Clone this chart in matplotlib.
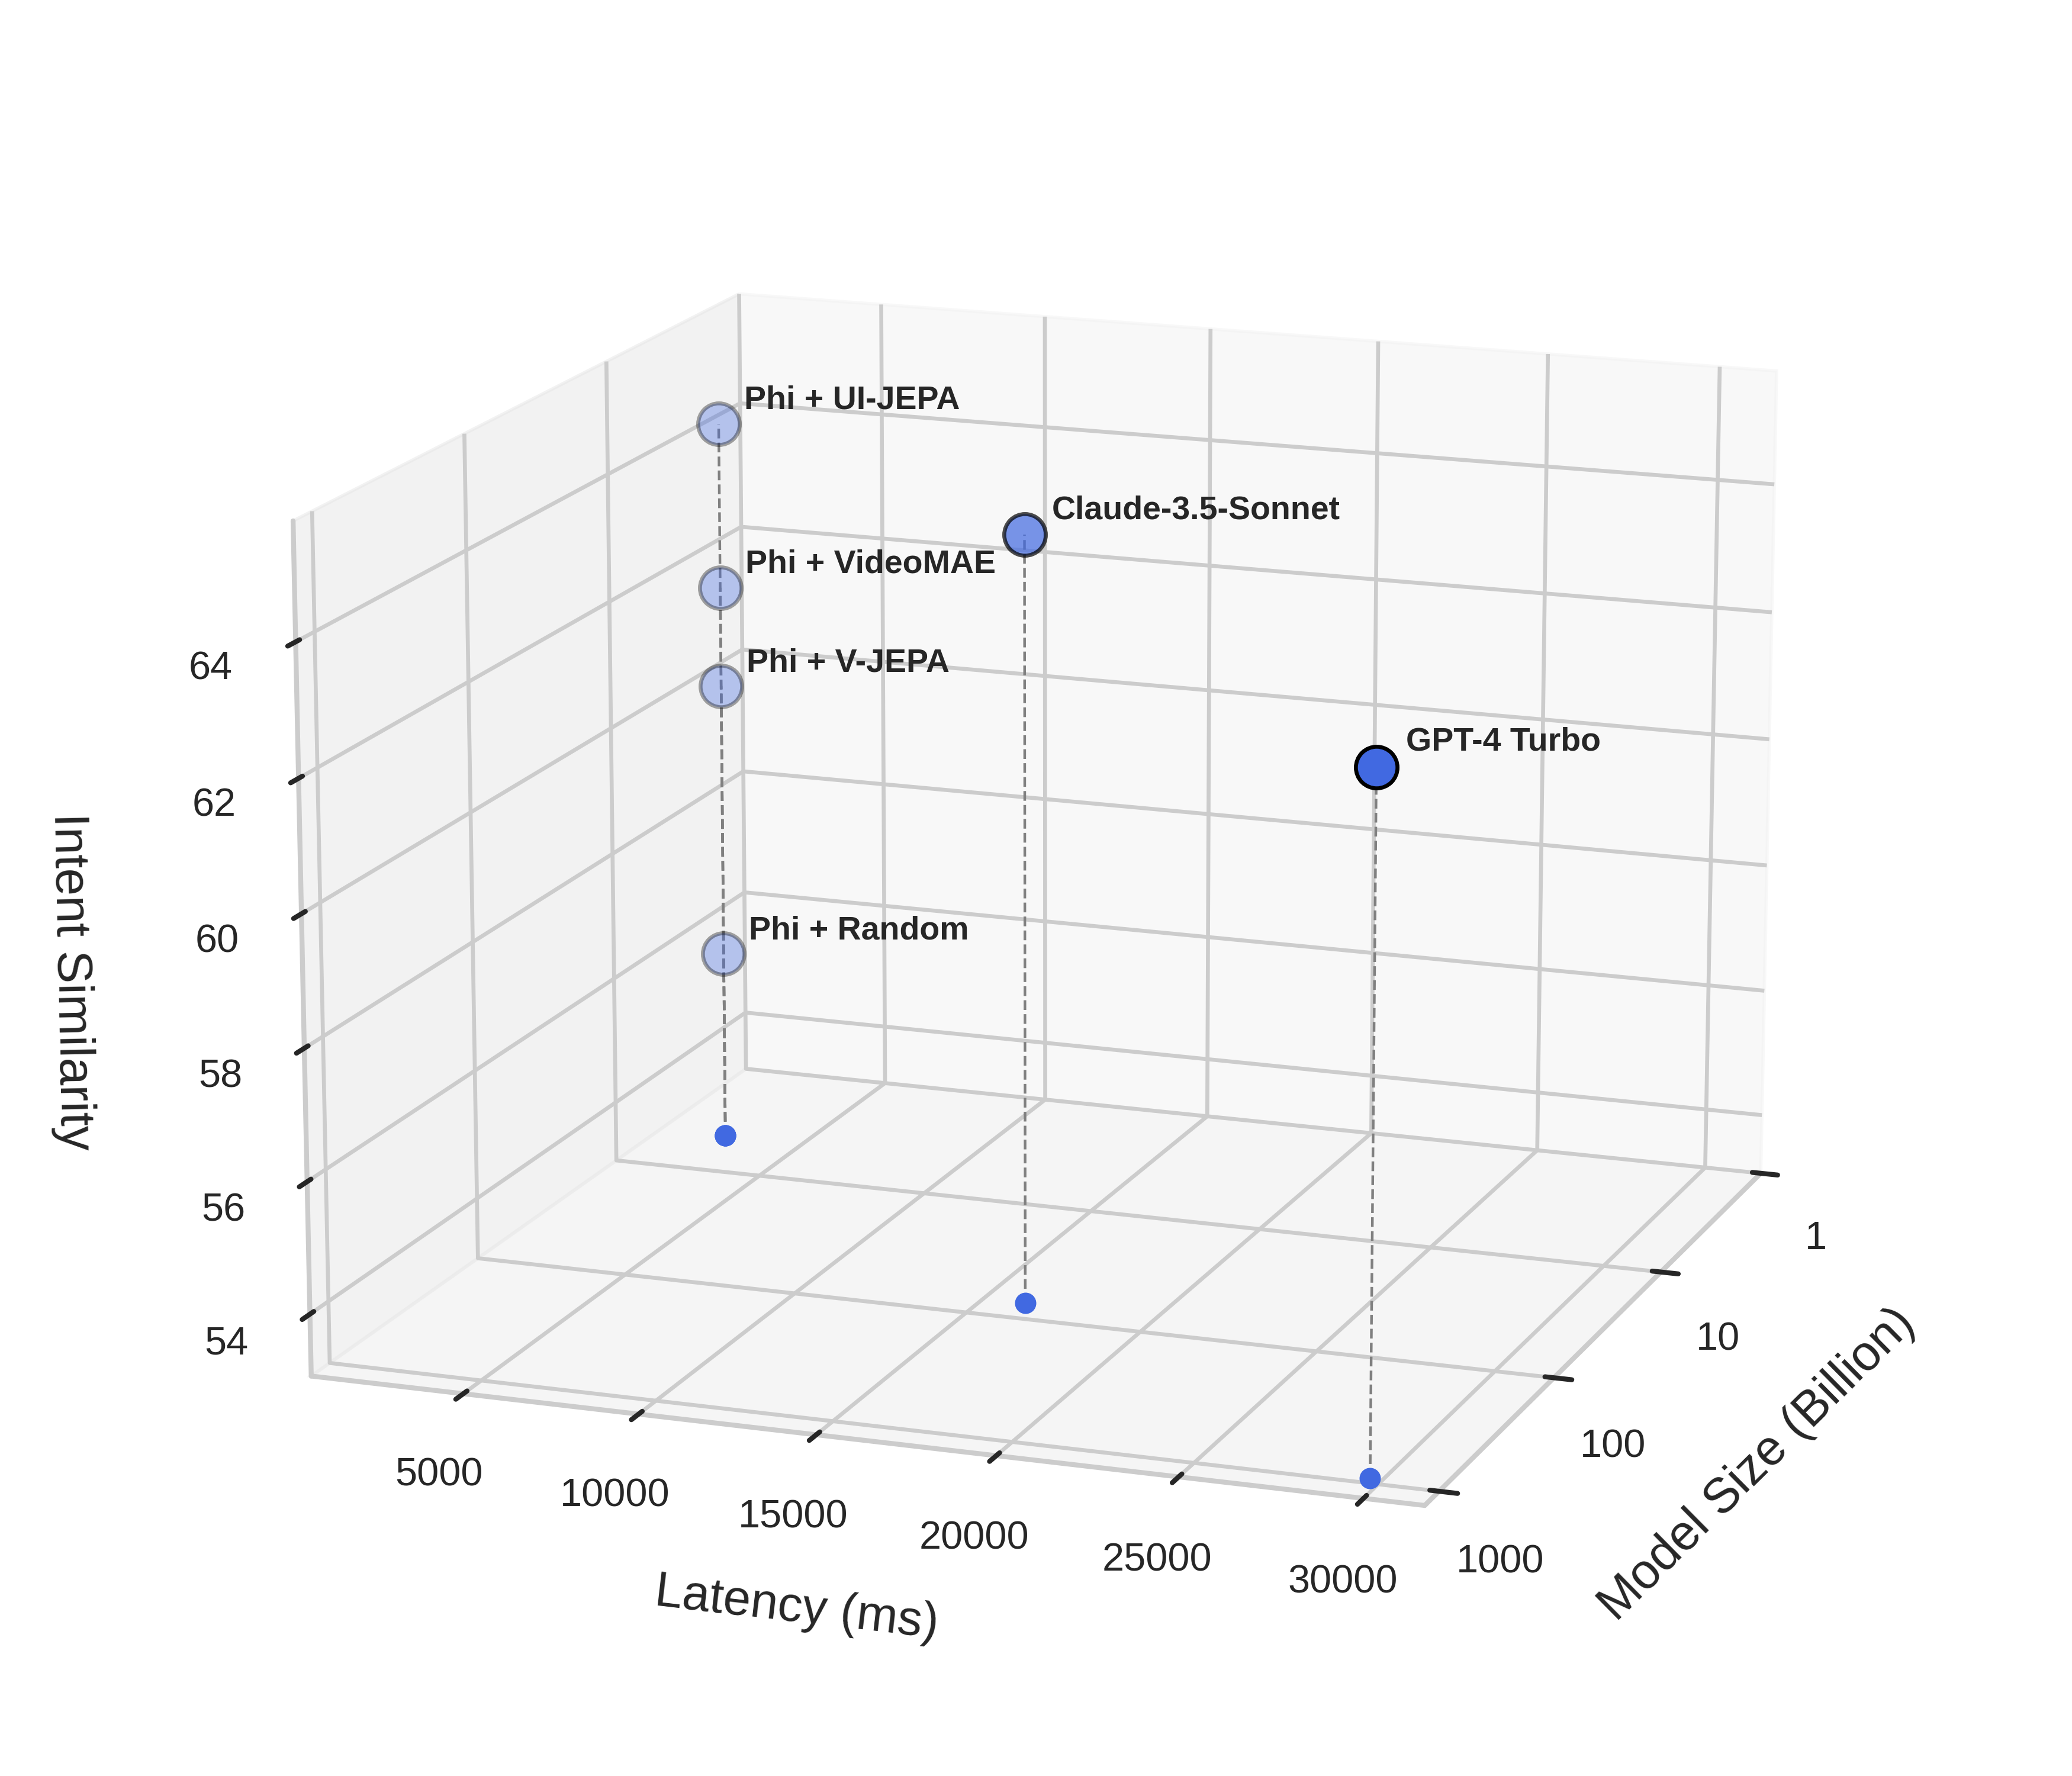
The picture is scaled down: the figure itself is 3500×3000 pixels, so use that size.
import numpy as np
import matplotlib
matplotlib.use("Agg")
import matplotlib.pyplot as plt
import seaborn as sns

sns.set_style("whitegrid")
plt.rcParams["font.family"] = ["Liberation Sans", "DejaVu Sans"]
plt.rcParams["grid.linewidth"] = 1.2
plt.rcParams["axes.linewidth"] = 1.5
plt.rcParams["xtick.major.width"] = 1.5
plt.rcParams["ytick.major.width"] = 1.5

# model name, latency, model size, similarity
models = ["GPT-4 Turbo", "Claude-3.5-Sonnet", "Phi + UI-JEPA", "Phi + VideoMAE", "Phi + V-JEPA", "Phi + Random"]
latency = [29650, 16200, 2610, 2610, 2610, 2610]
model_size = [910, 73, 4.6, 4.6, 4.6, 4.6]
similarity = [63.35, 64.75, 64.49, 61.9, 60.33, 56.03]
alphas = [1.0, 0.7, 0.35, 0.35, 0.35, 0.35]

latency_ticks = [5000, 10000, 15000, 20000, 25000, 30000]
size_ticks = [1, 10, 100, 1000]
sim_ticks = [54, 56, 58, 60, 62, 64]

fig = plt.figure(figsize=(8.75, 7.5), dpi=400)
ax = fig.add_subplot(111, projection="3d")
ax.set_position([0.0718, 0.0011, 0.857, 1.0])

ax.set_xlim(0, 3.12)
ax.set_ylim(610, 31640)
ax.set_zlim(53.06, 65.76)

log_size = np.log10(model_size)
z_floor = ax.get_zlim()[0]
for i, name in enumerate(models):
    ax.plot([log_size[i]] * 2, [latency[i]] * 2, [z_floor, similarity[i]],
            color="gray", linestyle="--", linewidth=0.8)
    ax.scatter(log_size[i], latency[i], z_floor, color="royalblue", s=30, alpha=1, depthshade=False)
    ax.scatter(log_size[i], latency[i], similarity[i], s=160, color="royalblue",
               alpha=alphas[i], edgecolor="black", linewidth=1.2, depthshade=False)
    ax.text(log_size[i], latency[i] + 780, similarity[i] + 0.27, name, fontsize=10, fontweight="bold", color="#262626")

ax.set_xticks(np.log10(size_ticks))
ax.set_xticklabels([str(v) for v in size_ticks])
ax.set_yticks(latency_ticks)
ax.set_zticks(sim_ticks)
ax.tick_params(labelsize=12, colors="#262626", pad=7)
ax.set_xlabel("Model Size (Billion)", fontsize=15, labelpad=19, color="#262626")
ax.set_ylabel("Latency (ms)", fontsize=15, labelpad=18, color="#262626")
ax.set_zlabel("Intent Similarity", fontsize=15, labelpad=20, color="#262626")
ax.view_init(elev=15, azim=20)

fig.savefig("out.png", dpi=400)
